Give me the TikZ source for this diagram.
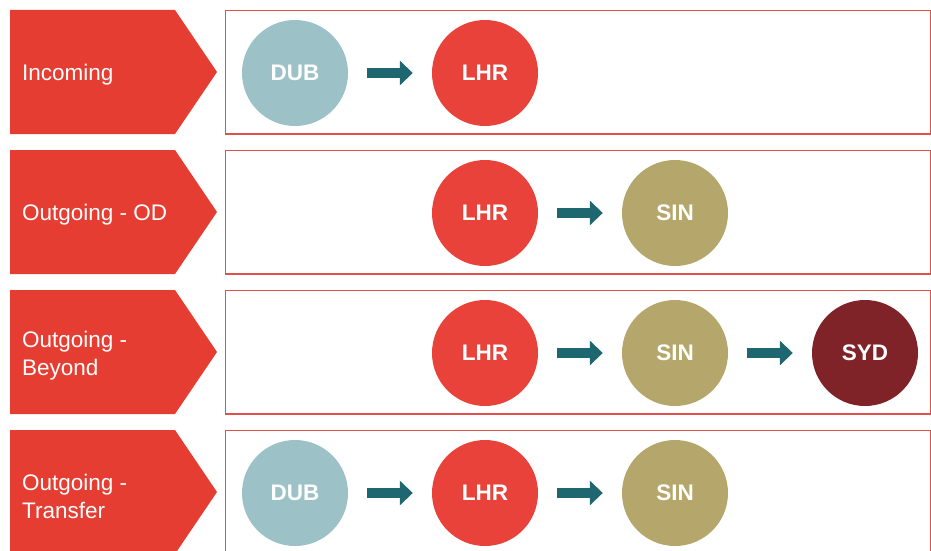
\documentclass[tikz,border=0pt]{standalone}
\usepackage{fontspec}
\setmainfont{Liberation Sans}
\usetikzlibrary{arrows.meta}
\definecolor{chev}{HTML}{E63D33}
\definecolor{boxline}{HTML}{E0514B}
\definecolor{cdub}{HTML}{9CC2C7}
\definecolor{clhr}{HTML}{E8423A}
\definecolor{csin}{HTML}{B5A76C}
\definecolor{csyd}{HTML}{7F2328}
\definecolor{carrow}{HTML}{1F6770}
\begin{document}
\begin{tikzpicture}[x=1pt,y=-1pt,
  chevtext/.style={anchor=west,text=white,font=\fontsize{22.5}{28}\selectfont,align=left,inner sep=0pt},
  rowbox/.style={draw=boxline,line width=1.1pt},
  city/.style={circle,minimum size=106pt,inner sep=0pt,text=white,font=\fontsize{22.5}{24}\selectfont\bfseries},
  flow/.style={draw=carrow,line width=10pt,-{Triangle[length=13pt,width=24pt]},shorten <=19pt,shorten >=19pt}]
\useasboundingbox (0,0) rectangle (931,551);
\clip (0,0) rectangle (931,551);
% chevrons and boxes
\foreach \y in {10,150,290,430}{
  \fill[chev] (10,\y) -- (175,\y) -- (217,\y+62) -- (175,\y+124) -- (10,\y+124) -- cycle;
  \draw[rowbox] (225.5,\y+0.5) rectangle (930.5,\y+124);
}
\node[chevtext] (t1) at (22,75) {Incoming};
\node[chevtext] (t2) at (22,215) {Outgoing - OD};
\node[chevtext] (t3) at (22,356) {Outgoing -\\Beyond};
\node[chevtext] (t4) at (22,496) {Outgoing -\\Transfer};
% row 1
\node[city,fill=cdub] (dub1) at (295,73) {DUB};
\node[city,fill=clhr] (lhr1) at (485,73) {LHR};
\draw[flow] (dub1) -- (lhr1);
% row 2
\node[city,fill=clhr] (lhr2) at (485,213) {LHR};
\node[city,fill=csin] (sin2) at (675,213) {SIN};
\draw[flow] (lhr2) -- (sin2);
% row 3
\node[city,fill=clhr] (lhr3) at (485,353) {LHR};
\node[city,fill=csin] (sin3) at (675,353) {SIN};
\node[city,fill=csyd] (syd3) at (865,353) {SYD};
\draw[flow] (lhr3) -- (sin3);
\draw[flow] (sin3) -- (syd3);
% row 4
\node[city,fill=cdub] (dub4) at (295,493) {DUB};
\node[city,fill=clhr] (lhr4) at (485,493) {LHR};
\node[city,fill=csin] (sin4) at (675,493) {SIN};
\draw[flow] (dub4) -- (lhr4);
\draw[flow] (lhr4) -- (sin4);
\end{tikzpicture}
\end{document}
